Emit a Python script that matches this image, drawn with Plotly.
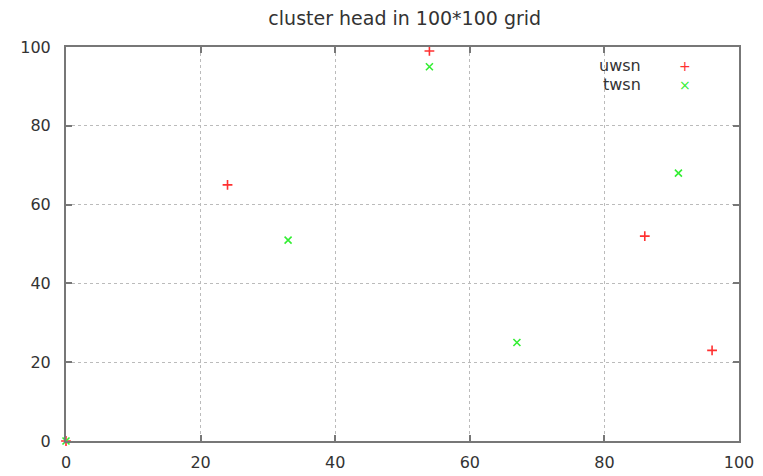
import plotly.graph_objects as go

title_text = "cluster head in 100*100 grid"
uwsn_x = [0, 24, 54, 86, 96]
uwsn_y = [0, 65, 99, 52, 23]
twsn_x = [0, 33, 54, 67, 91]
twsn_y = [0, 51, 95, 25, 68]
tick_vals = [0, 20, 40, 60, 80, 100]
series_names = ["uwsn", "twsn"]
series_colors = ["#ff3030", "#33ee33"]
series_glyphs = ["+", "×"]

FONT = "DejaVu Sans"
fig = go.Figure()
fig.add_trace(go.Scatter(x=uwsn_x, y=uwsn_y, mode="markers", name=series_names[0],
                         marker=dict(symbol="cross-thin", size=7, line=dict(color=series_colors[0], width=1.6)),
                         cliponaxis=False))
fig.add_trace(go.Scatter(x=twsn_x, y=twsn_y, mode="markers", name=series_names[1],
                         marker=dict(symbol="x-thin", size=7, line=dict(color=series_colors[1], width=1.6)),
                         cliponaxis=False))

axis_common = dict(range=[0, 100], tickvals=tick_vals, showgrid=True, gridcolor="#bbbbbb",
                   griddash="dot", gridwidth=1, showline=True, linecolor="#777777", linewidth=2,
                   mirror="ticks", ticks="inside", ticklen=6, tickcolor="#777777", tickwidth=2,
                   zeroline=False, tickfont=dict(family=FONT, size=16, color="#333333"))
fig.update_xaxes(**axis_common, ticklabelstandoff=6)
fig.update_yaxes(**axis_common, ticklabelstandoff=10)

# gnuplot-style key: text on left, symbol on right
for i, (nm, col, gl) in enumerate(zip(series_names, series_colors, series_glyphs)):
    fig.add_annotation(xref="paper", yref="paper", x=0.857, y=0.952 - i * 0.048, text=nm,
                       showarrow=False, xanchor="right", yanchor="middle",
                       font=dict(family=FONT, size=16, color="#333333"))
    fig.add_annotation(xref="paper", yref="paper", x=0.92, y=0.952 - i * 0.048, text=gl,
                       showarrow=False, xanchor="center", yanchor="middle",
                       font=dict(family=FONT, size=14, color=col))

fig.update_layout(
    width=763, height=476,
    margin=dict(l=58, r=32, t=39, b=43),
    paper_bgcolor="white", plot_bgcolor="white",
    showlegend=False,
    title=dict(text=title_text, x=0.52, xanchor="center", y=0.978, yanchor="middle",
               font=dict(family=FONT, size=19, color="#333333")),
)
fig.write_html("out.html")
